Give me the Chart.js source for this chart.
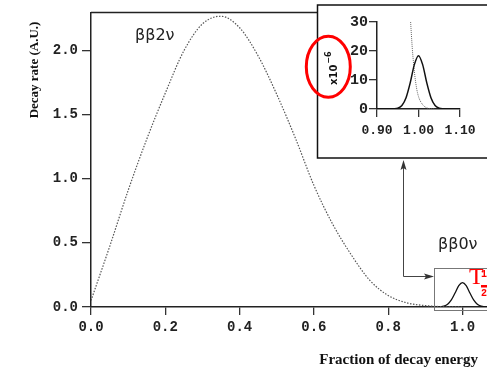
<!DOCTYPE html>
<html>
<head>
<meta charset="utf-8">
<script src="https://cdn.jsdelivr.net/npm/chart.js@4"></script>
<style>
  html, body { margin: 0; padding: 0; background: #fff; }
  #wrap { position: relative; width: 487px; height: 371px; overflow: hidden; }
  #main { position: absolute; left: 0; top: 0; }
  #inset { position: absolute; left: 300px; top: 0; }
</style>
</head>
<body>
<div id="wrap">
  <canvas id="main" width="487" height="371"></canvas>
  <canvas id="inset" width="187" height="165"></canvas>
</div>
<script>
// bb2v spectrum
const energy2v = [0, 0.05, 0.10, 0.15, 0.20, 0.25, 0.30, 0.35, 0.40, 0.45, 0.50, 0.55, 0.60, 0.65, 0.70, 0.75, 0.80, 0.85, 0.90, 0.95, 1.00]
const rate2v   = [0.05, 0.47, 0.91, 1.31, 1.67, 2.00, 2.21, 2.27, 2.18, 1.96, 1.66, 1.32, 0.95, 0.65, 0.41, 0.21, 0.09, 0.033, 0.011, 0.002, 0]

// bb0v peak as drawn in the small box
const energy0v = [0.93, 0.94, 0.95, 0.96, 0.97, 0.98, 0.99, 1.00, 1.01, 1.02, 1.03, 1.04, 1.05, 1.06, 1.07]
const rate0v   = [0, 0.001, 0.006, 0.021, 0.055, 0.109, 0.166, 0.19, 0.166, 0.109, 0.055, 0.021, 0.006, 0.001, 0]

// inset, units of 1e-6
const insetEnergy0v = [0.90, 0.92, 0.94, 0.95, 0.96, 0.97, 0.98, 0.99, 1.00, 1.01, 1.02, 1.03, 1.04, 1.05, 1.06, 1.08, 1.10]
const insetRate0v   = [0, 0, 0.1, 0.3, 1.2, 3.9, 9.0, 15.3, 18.4, 15.3, 9.0, 3.9, 1.2, 0.3, 0.1, 0, 0]
const insetEnergy2v = [0.981, 0.985, 0.99, 0.995, 1.00, 1.01, 1.02, 1.03, 1.04]
const insetRate2v   = [30, 21, 13, 7.5, 4.3, 1.5, 0.4, 0.05, 0]

const xTicks = [0, 0.2, 0.4, 0.6, 0.8, 1.0]
const yTicks = [0, 0.5, 1.0, 1.5, 2.0]
const insetXTicks = [0.90, 1.00, 1.10]
const insetYTicks = [0, 10, 20, 30]

const toPoints = (xs, ys) => xs.map((x, i) => ({x: x, y: ys[i]}))

const tickFont = {family: 'Liberation Mono', weight: 'bold', size: 14}

function arrowHead(ctx, x, y, dir){
  ctx.beginPath()
  if(dir == 'up'){
    ctx.moveTo(x, y); ctx.lineTo(x - 3, y + 10); ctx.lineTo(x, y + 8); ctx.lineTo(x + 3, y + 10)
  } else {
    ctx.moveTo(x, y); ctx.lineTo(x - 10, y - 3); ctx.lineTo(x - 8, y); ctx.lineTo(x - 10, y + 3)
  }
  ctx.closePath()
  ctx.fill()
}

const mainDecor = {
  id: 'mainDecor',
  afterDraw(chart){
    const ctx = chart.ctx
    const area = chart.chartArea
    ctx.save()
    // top frame line
    ctx.strokeStyle = '#222'
    ctx.lineWidth = 1.5
    ctx.beginPath()
    ctx.moveTo(area.left, area.top)
    ctx.lineTo(area.right, area.top)
    ctx.stroke()

    // axis titles
    ctx.fillStyle = '#111'
    ctx.font = 'bold 15px "Liberation Serif"'
    ctx.textAlign = 'right'
    ctx.textBaseline = 'alphabetic'
    ctx.fillText('Fraction of decay energy', 478, 364)

    ctx.save()
    ctx.translate(38, 70)
    ctx.rotate(-Math.PI / 2)
    ctx.font = 'bold 13px "Liberation Serif"'
    ctx.textAlign = 'center'
    ctx.fillText('Decay rate (A.U.)', 0, 0)
    ctx.restore()

    // curve labels
    ctx.font = '16px "DejaVu Sans"'
    ctx.textAlign = 'left'
    ctx.fillStyle = '#222'
    ctx.fillText('ββ2ν', 135, 40)
    ctx.fillText('ββ0ν', 438, 249)

    // small box round the 0v peak
    ctx.strokeStyle = '#777'
    ctx.lineWidth = 1
    ctx.strokeRect(434.5, 268.5, 70, 42)

    // arrows
    ctx.strokeStyle = '#444'
    ctx.fillStyle = '#333'
    ctx.beginPath()
    ctx.moveTo(403.5, 168)
    ctx.lineTo(403.5, 276.5)
    ctx.lineTo(426, 276.5)
    ctx.stroke()
    arrowHead(ctx, 403.5, 160, 'up')
    arrowHead(ctx, 434, 276.5, 'right')

    // T1/2 in red
    ctx.fillStyle = '#f00'
    ctx.font = '24px "Liberation Serif"'
    ctx.fillText('T', 469, 284)
    ctx.font = 'bold 10px "Liberation Mono"'
    ctx.fillText('1', 481, 277)
    ctx.fillText('2', 481, 296)
    ctx.fillRect(481, 285, 8, 2.5)
    ctx.restore()
  }
}

new Chart(document.getElementById('main'), {
  type: 'line',
  data: {
    datasets: [
      {
        data: toPoints(energy2v, rate2v),
        borderColor: '#555',
        borderWidth: 1.2,
        borderDash: [1.5, 1.5],
        pointRadius: 0,
        cubicInterpolationMode: 'monotone'
      },
      {
        data: toPoints(energy0v, rate0v),
        borderColor: '#111',
        borderWidth: 1.3,
        pointRadius: 0,
        cubicInterpolationMode: 'monotone'
      }
    ]
  },
  options: {
    responsive: false,
    animation: false,
    layout: {padding: {top: 4, right: 0, left: 0, bottom: 0}},
    plugins: {legend: {display: false}, tooltip: {enabled: false}},
    scales: {
      x: {
        type: 'linear', min: 0, max: 1.066,
        afterBuildTicks: s => { s.ticks = xTicks.map(v => ({value: v})) },
        afterFit: s => { s.height = 64 },
        ticks: {callback: v => v.toFixed(1), font: tickFont, color: '#222', padding: 4, maxRotation: 0, autoSkip: false},
        grid: {drawOnChartArea: false, tickLength: 8, color: '#333', lineWidth: 1.3},
        border: {color: '#222', width: 1.5}
      },
      y: {
        type: 'linear', min: 0, max: 2.30,
        afterBuildTicks: s => { s.ticks = yTicks.map(v => ({value: v})) },
        afterFit: s => { s.width = 91 },
        ticks: {callback: v => v.toFixed(1), font: tickFont, color: '#222', padding: 4, autoSkip: false},
        grid: {drawOnChartArea: false, tickLength: 9, color: '#333', lineWidth: 1.3},
        border: {color: '#222', width: 1.5}
      }
    }
  },
  plugins: [mainDecor]
})

const insetDecor = {
  id: 'insetDecor',
  beforeDraw(chart){
    const ctx = chart.ctx
    ctx.save()
    ctx.fillStyle = '#fff'
    ctx.fillRect(17, 5, 200, 153)
    ctx.strokeStyle = '#111'
    ctx.lineWidth = 1.5
    ctx.strokeRect(17.5, 5, 200, 153)
    ctx.restore()
  },
  afterDraw(chart){
    const ctx = chart.ctx
    ctx.save()
    // x10^-6 label
    ctx.translate(37, 85)
    ctx.rotate(-Math.PI / 2)
    ctx.fillStyle = '#111'
    ctx.textBaseline = 'alphabetic'
    ctx.font = 'bold 10px "DejaVu Sans"'
    ctx.fillText('x10', 0, 0)
    const w = ctx.measureText('x10').width
    ctx.font = 'bold 8px "DejaVu Sans"'
    ctx.fillText('−6', w + 1, -6)
    ctx.restore()

    // red ellipse
    ctx.save()
    ctx.strokeStyle = '#f00'
    ctx.lineWidth = 3
    ctx.beginPath()
    ctx.ellipse(28.3, 66.7, 22, 30.5, 0, 0, Math.PI * 2)
    ctx.stroke()
    ctx.restore()
  }
}

const insetTickFont = {family: 'Liberation Mono', weight: 'bold', size: 13}

new Chart(document.getElementById('inset'), {
  type: 'line',
  data: {
    datasets: [
      {
        data: toPoints(insetEnergy0v, insetRate0v),
        borderColor: '#111',
        borderWidth: 1.5,
        pointRadius: 0,
        cubicInterpolationMode: 'monotone'
      },
      {
        data: toPoints(insetEnergy2v, insetRate2v),
        borderColor: '#666',
        borderWidth: 1,
        borderDash: [1, 1],
        pointRadius: 0,
        cubicInterpolationMode: 'monotone'
      }
    ]
  },
  options: {
    responsive: false,
    animation: false,
    layout: {padding: {top: 22, right: 27, left: 0, bottom: 0}},
    plugins: {legend: {display: false}, tooltip: {enabled: false}},
    scales: {
      x: {
        type: 'linear', min: 0.9, max: 1.1,
        afterBuildTicks: s => { s.ticks = insetXTicks.map(v => ({value: v})) },
        afterFit: s => { s.height = 56 },
        ticks: {callback: v => v.toFixed(2), font: insetTickFont, color: '#222', padding: 6, maxRotation: 0, autoSkip: false},
        grid: {drawOnChartArea: false, tickLength: 8, color: '#333', lineWidth: 1.3},
        border: {color: '#222', width: 1.5}
      },
      y: {
        type: 'linear', min: 0, max: 30,
        afterBuildTicks: s => { s.ticks = insetYTicks.map(v => ({value: v})) },
        afterFit: s => { s.width = 77 },
        ticks: {font: {family: 'Liberation Mono', weight: 'bold', size: 15}, color: '#222', padding: 1, autoSkip: false},
        grid: {drawOnChartArea: false, tickLength: 8, color: '#333', lineWidth: 1.3},
        border: {color: '#222', width: 1.5}
      }
    }
  },
  plugins: [insetDecor]
})
</script>
</body>
</html>
